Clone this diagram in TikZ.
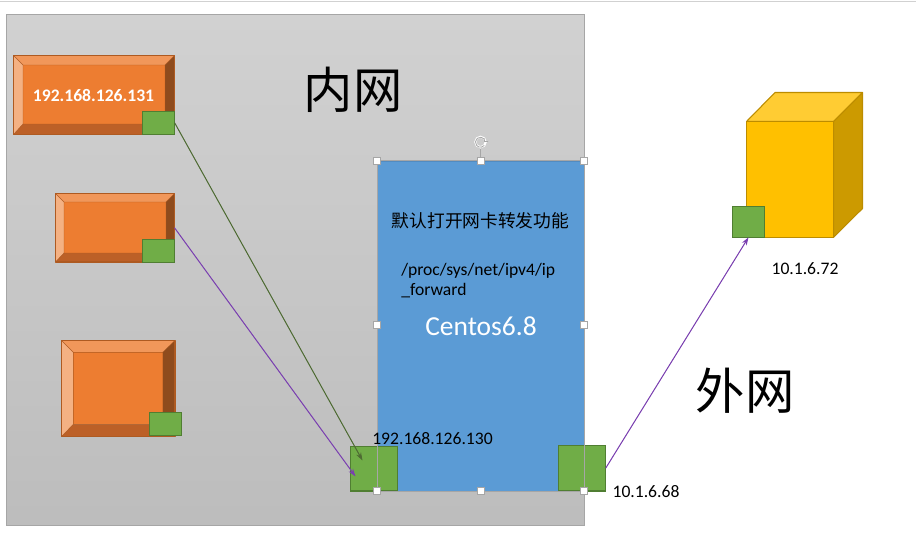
\documentclass[tikz,border=0pt]{standalone}
\usepackage{fontspec}
\setmainfont{Carlito}
\newfontfamily\cjk{Noto Sans CJK SC}
\usetikzlibrary{arrows.meta}
\definecolor{orangemain}{HTML}{ED7D31}
\definecolor{orangetop}{HTML}{F1975A}
\definecolor{orangeleft}{HTML}{F4B183}
\definecolor{orangeright}{HTML}{8E4B1D}
\definecolor{orangebottom}{HTML}{BC6027}
\definecolor{orangeline}{HTML}{AE5A21}
\definecolor{netgreen}{HTML}{70AD47}
\definecolor{netline}{HTML}{507E32}
\definecolor{bluemain}{HTML}{5B9BD5}
\definecolor{selgray}{HTML}{A6A6A6}
\definecolor{gold}{HTML}{FFC000}
\definecolor{goldtop}{HTML}{FFCC33}
\definecolor{goldside}{HTML}{CC9A00}
\definecolor{goldline}{HTML}{BC8C00}
\definecolor{linkgreen}{HTML}{4E6B33}
\definecolor{linkpurple}{HTML}{7A3FB0}
\tikzset{
  boxbase/.style={inner sep=0pt,outer sep=0pt,anchor=north west},
  panel/.style={boxbase,draw=selgray,line width=.75pt,top color=white!82!black,bottom color=white!74!black},
  netcard/.style={boxbase,draw=netline,fill=netgreen,line width=.8pt},
  hostbox/.style={boxbase,draw=bluemain!90!black,fill=bluemain,line width=.6pt},
  frontbox/.style={boxbase,draw=goldline,fill=gold,line width=.8pt},
  bevelarea/.style={boxbase},
  selframe/.style={draw=selgray,line width=.75pt},
  handle/.style={inner sep=0pt,outer sep=0pt,minimum size=5pt,draw=selgray,fill=white,line width=.5pt},
  link/.style={line width=.75pt,-{Stealth[length=6pt,width=4pt]}},
  labeltext/.style={inner sep=0pt,font=\fontsize{13.2pt}{16pt}\selectfont,text=black},
  bigtext/.style={inner sep=0pt,font=\cjk\fontsize{37pt}{40pt}\selectfont,text=black},
}
\newcommand{\rectnode}[6]{\node[#2,minimum width={(#5-#3)*0.75pt},minimum height={(#6-#4)*0.75pt}] (#1) at (#3,#4) {};}
\newcommand{\bevel}[9]{%
  \rectnode{#1}{bevelarea}{#2}{#3}{#4}{#5}
  \begin{scope}[line join=round]
    \fill[orangetop] (#2,#3)--(#4,#3)--(#8,#7)--(#6,#7)--cycle;
    \fill[orangeleft] (#2,#3)--(#6,#7)--(#6,#9)--(#2,#5)--cycle;
    \fill[orangeright] (#4,#3)--(#8,#7)--(#8,#9)--(#4,#5)--cycle;
    \fill[orangebottom] (#2,#5)--(#6,#9)--(#8,#9)--(#4,#5)--cycle;
    \fill[orangemain] (#6,#7) rectangle (#8,#9);
    \draw[orangeline,line width=.3pt] (#2,#3)--(#6,#7) (#4,#3)--(#8,#7) (#2,#5)--(#6,#9) (#4,#5)--(#8,#9) (#6,#7) rectangle (#8,#9);
    \draw[orangeline,line width=.9pt] (#2,#3) rectangle (#4,#5);
  \end{scope}}
\begin{document}
\begin{tikzpicture}[x=0.75pt,y=-0.75pt]
\useasboundingbox (0,0) rectangle (916,532);
\fill[white] (0,0) rectangle (916,532);
\draw[white!82!black,line width=.75pt] (0,1) -- (916,1);
\rectnode{lan}{panel}{6}{14.5}{584.5}{525.5}

\bevel{hostA}{13.5}{55.5}{174.5}{134.5}{23}{65}{165}{124}
\bevel{hostB}{55.5}{193.5}{174.5}{262}{64}{202}{166}{253}
\bevel{hostC}{61.5}{340.5}{175}{436.5}{73.3}{352.3}{162.7}{424.3}
\rectnode{nicA}{netcard}{142.3}{111.3}{174.7}{134.5}
\rectnode{nicB}{netcard}{142.3}{239.3}{174.7}{262.3}
\rectnode{nicC}{netcard}{149.3}{412.3}{181.7}{435.7}
\node[inner sep=0pt,text=white,font=\fontsize{13.2pt}{16pt}\selectfont\bfseries] (ipA) at (93.5,95) {192.168.126.131};

\rectnode{host}{hostbox}{377}{161}{584}{491}
\rectnode{nicL}{netcard}{350.5}{446.3}{397.7}{491}
\rectnode{nicR}{netcard}{558.3}{445.3}{605.7}{491}
\draw[selframe] (377,160.5) rectangle (584,491);
\draw[selframe] (480.5,160.5) -- (480.5,149);
\node[handle] (h1) at (376.5,160.5) {};
\node[handle] (h2) at (480.5,160.5) {};
\node[handle] (h3) at (584,160.5) {};
\node[handle] (h4) at (376.5,325) {};
\node[handle] (h5) at (584,325) {};
\node[handle] (h6) at (376.5,491) {};
\node[handle] (h7) at (480.5,491) {};
\node[handle] (h8) at (584,491) {};
\draw[white,line width=1.6pt] (480.5,142) circle (5.2);
\draw[selgray,line width=.6pt] (484.3,139) arc (-40:-320:5) ;
\draw[selgray,line width=.6pt] (484,138) -- (484.6,141.5) -- (488,141.5);

\path[draw=goldline,fill=goldtop,line width=.8pt,line join=round] (746.5,121.5)--(775,92.5)--(862.5,92.5)--(833.5,121.5)--cycle;
\path[draw=goldline,fill=goldside,line width=.8pt,line join=round] (833.5,121.5)--(862.5,92.5)--(862.5,208.5)--(833.5,237.3)--cycle;
\rectnode{server}{frontbox}{746.5}{121.5}{833.5}{237.3}
\rectnode{nicS}{netcard}{732.3}{206.3}{764.7}{237.3}

\coordinate (inA) at (362.5,460.5);
\coordinate (inB) at (355.5,476.5);
\draw[link,draw=linkgreen,fill=linkgreen] (nicA.east) -- (inA);
\draw[link,draw=linkpurple,fill=linkpurple] (hostB.east) -- (inB);
\draw[link,draw=linkpurple,fill=linkpurple] (nicR.east) -- (nicS.south);

\node[bigtext] (lanlabel) at (353,90) {内网};
\node[bigtext] (wanlabel) at (745,391) {外网};
\node[inner sep=0pt,text=black,font=\cjk\fontsize{13.3pt}{18pt}\selectfont] (feature) at (480.5,221) {默认打开网卡转发功能};
\node[labeltext,anchor=base west] (path1) at (401,275) {/proc/sys/net/ipv4/ip};
\node[labeltext,anchor=base west] (path2) at (401,295) {\_forward};
\node[inner sep=0pt,text=white,font=\fontsize{20.6pt}{24pt}\selectfont] (os) at (481,326) {Centos6.8};
\node[labeltext] (ipL) at (432.5,438.5) {192.168.126.130};
\node[labeltext] (ipR) at (646,492) {10.1.6.68};
\node[labeltext] (ipS) at (805,269) {10.1.6.72};
\end{tikzpicture}
\end{document}
